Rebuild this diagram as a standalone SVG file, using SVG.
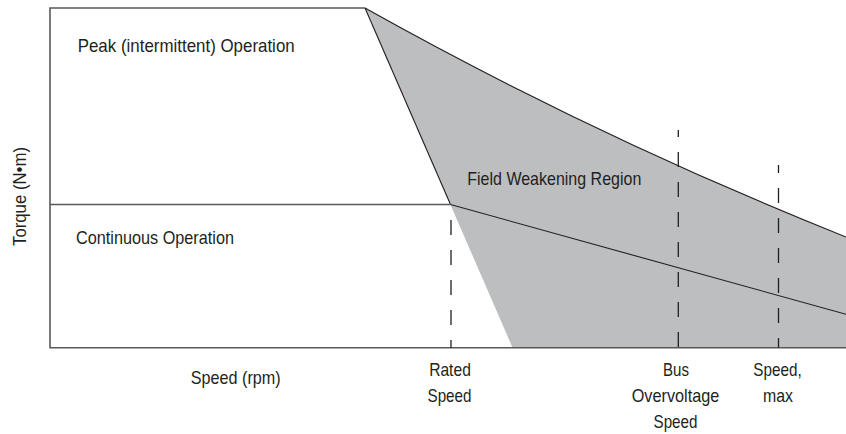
<svg xmlns="http://www.w3.org/2000/svg" width="846" height="434" viewBox="0 0 846 434">
<style>
text{font-family:"Liberation Sans Narrow","Liberation Sans",Arial,sans-serif;font-size:18.5px;fill:#231f20}
.ax{stroke:#58595b;stroke-width:1.6;fill:none}
.ln{stroke:#231f20;stroke-width:1.1;fill:none}
.dash{stroke:#231f20;stroke-width:1.3;stroke-dasharray:15 15;fill:none}
.mid{text-anchor:middle}
</style>
<rect width="846" height="434" fill="#ffffff"/>
<g id="field-weakening-region">
<path d="M365,8 Q593.75,136.1 846,237 L846,348 L512.7,348 Z" fill="#bcbec0"/>
<path class="ln" d="M365,8 Q593.75,136.1 846,237"/>
<path class="ln" stroke-width="0.8" d="M365,8 L450.5,204.5"/>
</g>
<g id="axes">
<path class="ax" d="M365,8 L50,8 L50,347.7 L846,347.7"/>
<path class="ax" d="M50,204.5 L450.5,204.5"/>
</g>
<g id="continuous-curve">
<path class="ln" d="M450.5,204.5 L846,314.3"/>
</g>
<g id="markers">
<path class="dash" d="M451,220 L451,347.7"/>
<path class="dash" d="M678.3,130 L678.3,347.7" stroke-dashoffset="8"/>
<path class="dash" d="M778.5,165 L778.5,347.7" stroke-dashoffset="7"/>
</g>
<g id="labels">
<text x="77.7" y="51.5" textLength="217" lengthAdjust="spacingAndGlyphs">Peak (intermittent) Operation</text>
<text x="76" y="244" textLength="158" lengthAdjust="spacingAndGlyphs">Continuous Operation</text>
<text x="467.3" y="185" textLength="174" lengthAdjust="spacingAndGlyphs">Field Weakening Region</text>
<text x="190.7" y="384" textLength="90" lengthAdjust="spacingAndGlyphs">Speed (rpm)</text>
<text class="mid" transform="translate(25.5,196.5) rotate(-90)" textLength="99" lengthAdjust="spacingAndGlyphs">Torque (N•m)</text>
</g>
<g id="label-rated">
<text class="mid" x="450" y="376" textLength="41.7" lengthAdjust="spacingAndGlyphs">Rated</text>
<text class="mid" x="449.5" y="402" textLength="44" lengthAdjust="spacingAndGlyphs">Speed</text>
</g>
<g id="label-bus">
<text class="mid" x="676" y="376" textLength="26" lengthAdjust="spacingAndGlyphs">Bus</text>
<text class="mid" x="675.5" y="402" textLength="87.6" lengthAdjust="spacingAndGlyphs">Overvoltage</text>
<text class="mid" x="675.5" y="428" textLength="44" lengthAdjust="spacingAndGlyphs">Speed</text>
</g>
<g id="label-max">
<text class="mid" x="777.5" y="376" textLength="48.4" lengthAdjust="spacingAndGlyphs">Speed,</text>
<text class="mid" x="778" y="402" textLength="30" lengthAdjust="spacingAndGlyphs">max</text>
</g>
</svg>
